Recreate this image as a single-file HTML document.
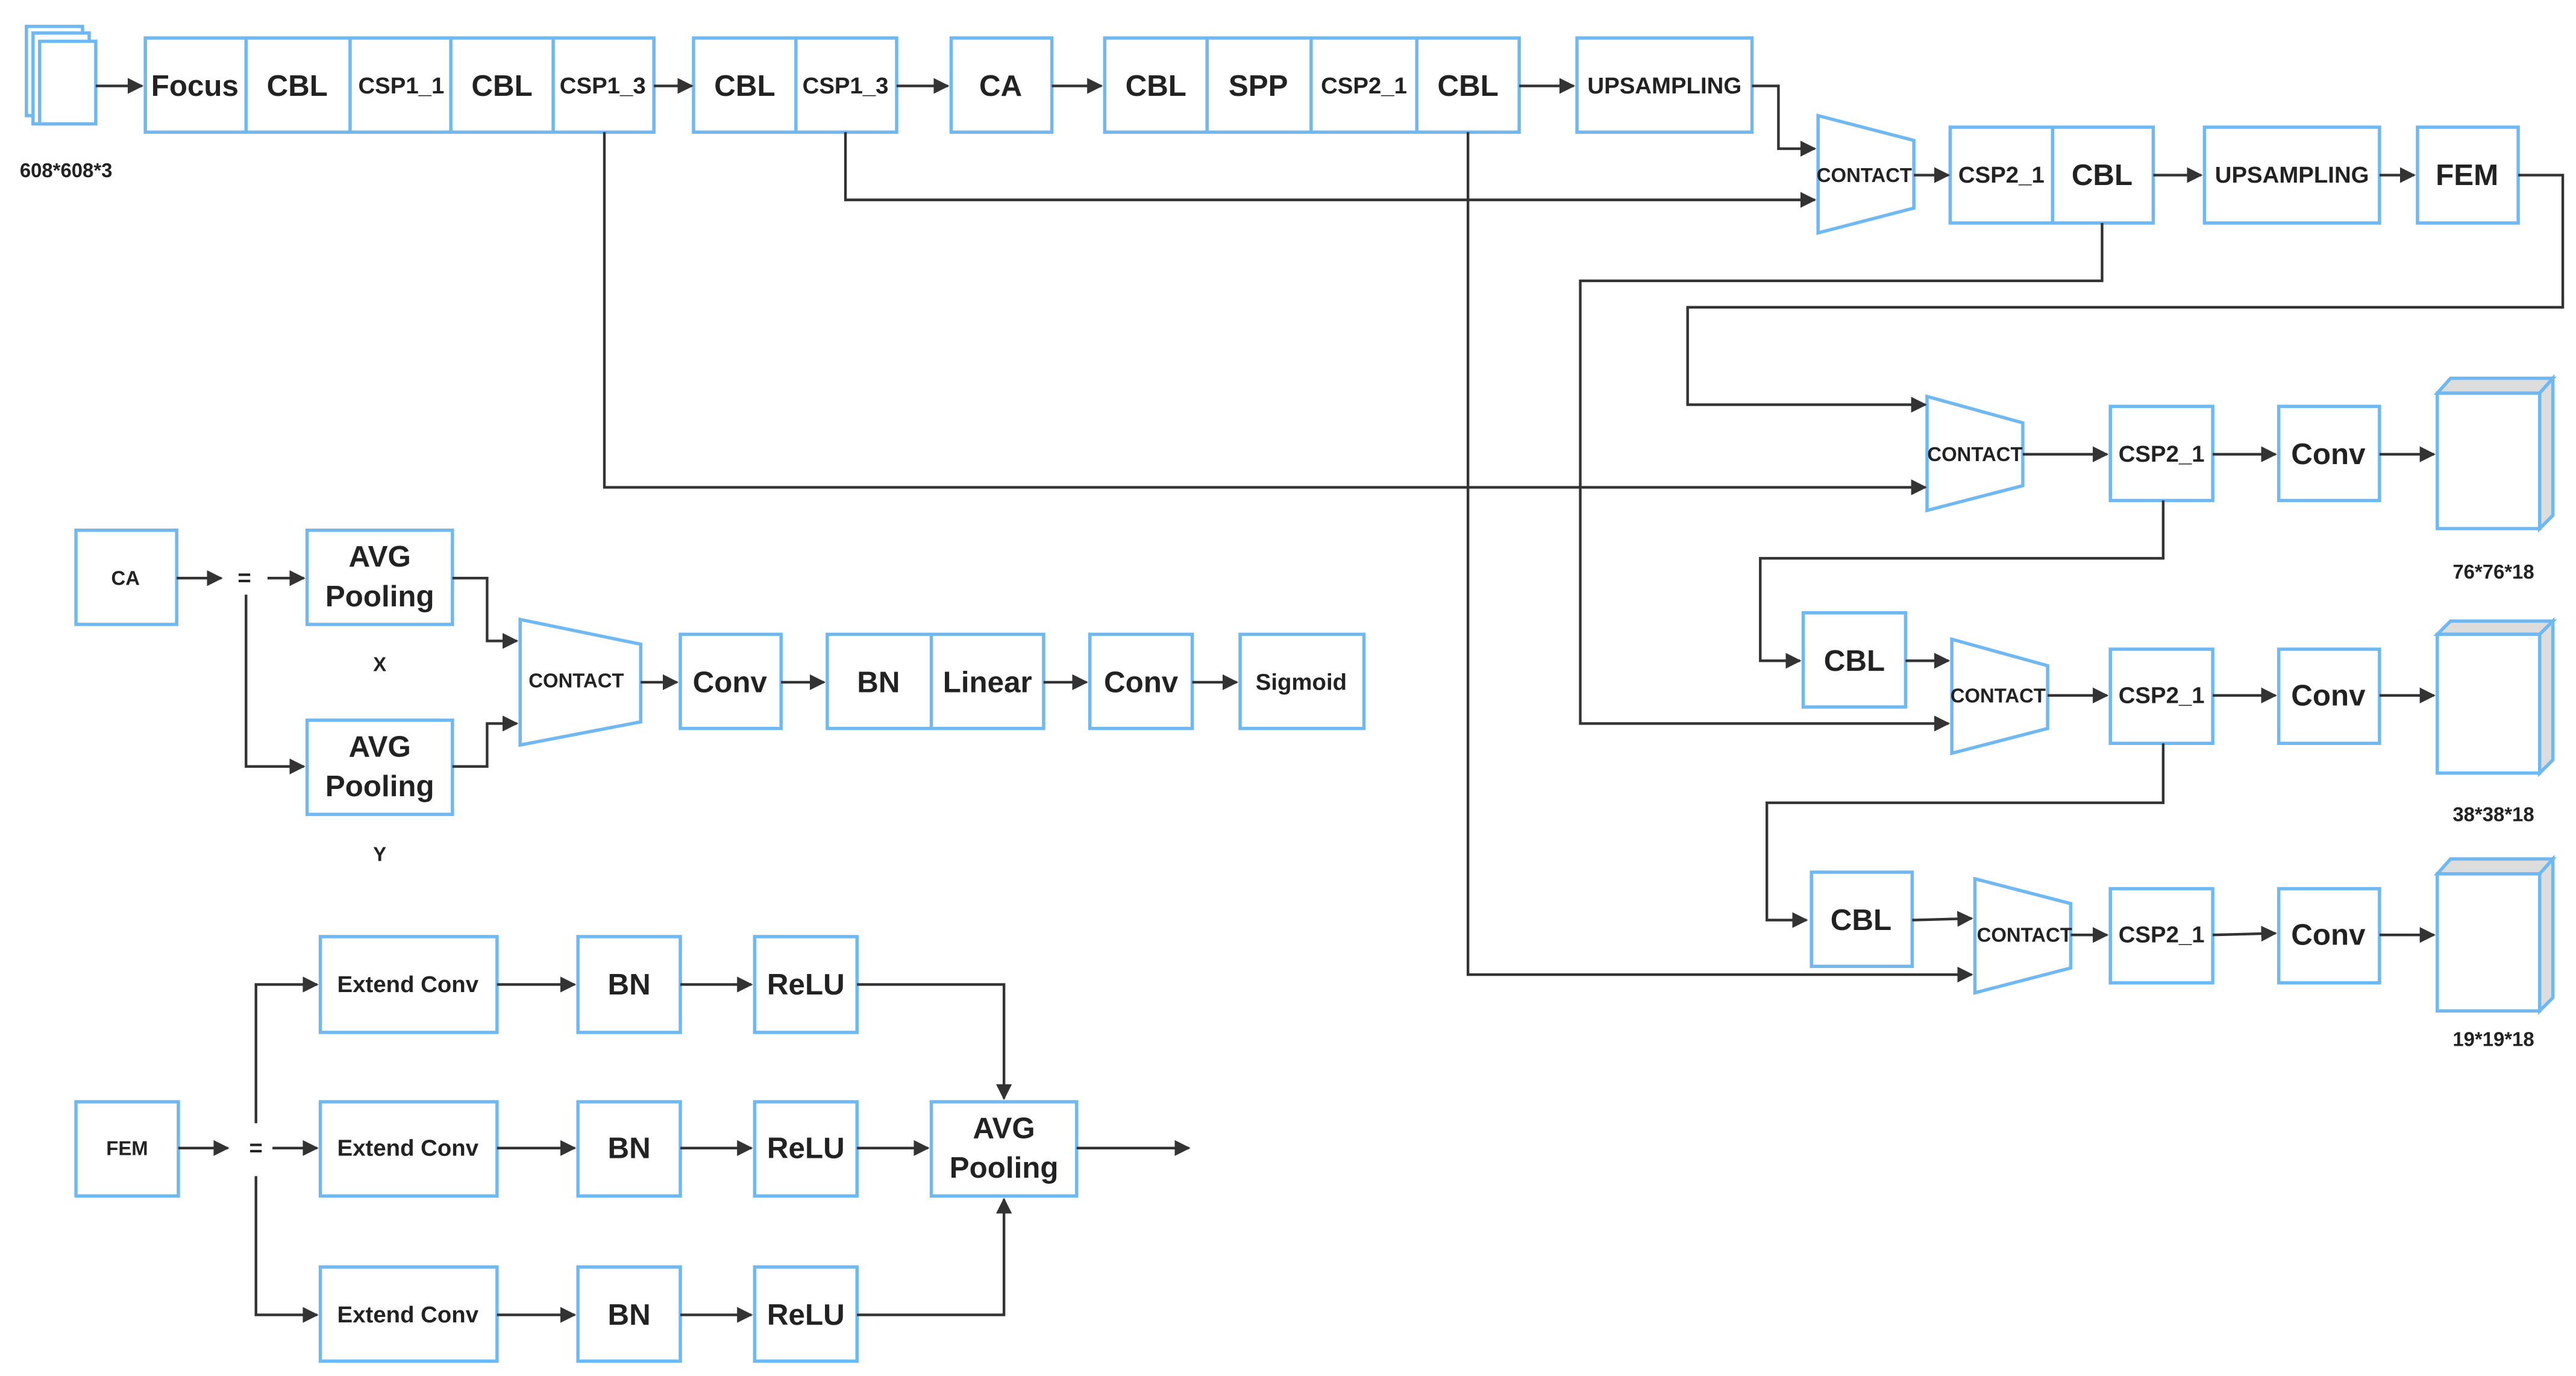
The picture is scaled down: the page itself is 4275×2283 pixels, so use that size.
<!DOCTYPE html>
<html><head><meta charset="utf-8"><style>
html,body{margin:0;padding:0;background:#fff;}
svg{display:block;}
text{font-family:"Liberation Sans Narrow","Liberation Sans",sans-serif;fill:#222;font-weight:bold;text-anchor:middle;dominant-baseline:central;}
.b{fill:#fff;stroke:#6fb8f2;stroke-width:2;}
.l{fill:none;stroke:#333;stroke-width:1.6;}
</style></head><body>
<svg width="4275" height="2283" viewBox="0 0 1560 833" preserveAspectRatio="none" xmlns="http://www.w3.org/2000/svg">
<defs><marker id="a" viewBox="0 0 10 10" refX="9" refY="5" markerWidth="6" markerHeight="6" orient="auto"><path d="M0,0L10,5L0,10z" fill="#333"/></marker></defs>
<g class="b">
<rect x="16" y="16" width="34" height="54"/><rect x="20" y="20" width="34" height="55"/><rect x="24" y="25" width="34" height="50"/>
<rect x="88" y="23" width="308" height="57"/><rect x="420" y="23" width="123" height="57"/><rect x="576" y="23" width="61" height="57"/>
<rect x="669" y="23" width="251" height="57"/><rect x="955" y="23" width="106" height="57"/>
<polygon points="1101,70 1159,85 1159,126 1101,141"/>
<rect x="1181" y="77" width="123" height="58"/><rect x="1335" y="77" width="106" height="58"/><rect x="1464" y="77" width="61" height="58"/>
<polygon points="1167,240 1225,256 1225,294 1167,309"/>
<rect x="1278" y="246" width="62" height="57"/><rect x="1380" y="246" width="61" height="57"/>
<rect x="1092" y="371" width="62" height="57"/>
<polygon points="1182,387 1240,403 1240,441 1182,456"/>
<rect x="1278" y="393" width="62" height="57"/><rect x="1380" y="393" width="61" height="57"/>
<rect x="1097" y="528" width="61" height="57"/>
<polygon points="1196,532 1254,547 1254,586 1196,601"/>
<rect x="1278" y="538" width="62" height="57"/><rect x="1380" y="538" width="61" height="57"/>
<rect x="46" y="321" width="61" height="57"/><rect x="186" y="321" width="88" height="57"/><rect x="186" y="436" width="88" height="57"/>
<polygon points="315,375 388,390 388,437 315,451"/>
<rect x="412" y="384" width="61" height="57"/><rect x="501" y="384" width="131" height="57"/><rect x="660" y="384" width="62" height="57"/><rect x="751" y="384" width="75" height="57"/>
<rect x="46" y="667" width="62" height="57"/>
<rect x="194" y="567" width="107" height="58"/><rect x="194" y="667" width="107" height="57"/><rect x="194" y="767" width="107" height="57"/>
<rect x="350" y="567" width="62" height="58"/><rect x="350" y="667" width="62" height="57"/><rect x="350" y="767" width="62" height="57"/>
<rect x="457" y="567" width="62" height="58"/><rect x="457" y="667" width="62" height="57"/><rect x="457" y="767" width="62" height="57"/>
<rect x="564" y="667" width="88" height="57"/>
</g>
<g class="b" stroke-width="1.5">
<line x1="149" y1="23" x2="149" y2="80"/><line x1="212" y1="23" x2="212" y2="80"/><line x1="273" y1="23" x2="273" y2="80"/><line x1="335" y1="23" x2="335" y2="80"/>
<line x1="482" y1="23" x2="482" y2="80"/><line x1="731" y1="23" x2="731" y2="80"/><line x1="794" y1="23" x2="794" y2="80"/><line x1="858" y1="23" x2="858" y2="80"/>
<line x1="1243" y1="77" x2="1243" y2="135"/><line x1="564" y1="384" x2="564" y2="441"/>
</g>
<!-- cubes -->
<g class="b">
<polygon points="1476,238 1484,229 1546,229 1538,238" style="fill:#ddd"/><polygon points="1538,238 1546,229 1546,312 1538,320" style="fill:#ddd"/><rect x="1476" y="238" width="62" height="82"/>
<polygon points="1476,384 1484,376 1546,376 1538,384" style="fill:#ddd"/><polygon points="1538,384 1546,376 1546,460 1538,468" style="fill:#ddd"/><rect x="1476" y="384" width="62" height="84"/>
<polygon points="1476,529 1484,520 1546,520 1538,529" style="fill:#ddd"/><polygon points="1538,529 1546,520 1546,604 1538,612" style="fill:#ddd"/><rect x="1476" y="529" width="62" height="83"/>
</g>
<g class="l" marker-end="url(#a)">
<path d="M58,52H86"/><path d="M396,52H419"/><path d="M543,52H574"/><path d="M637,52H667"/><path d="M920,52H953"/>
<path d="M1061,52H1077V90H1099"/><path d="M1159,106H1180"/><path d="M1304,106H1333"/><path d="M1441,106H1462"/>
<path d="M1525,106H1552V186H1022V245H1166"/>
<path d="M1273,135V170H957V438H1180"/>
<path d="M512,80V121H1099"/>
<path d="M366,80V295H1166"/>
<path d="M889,80V590H1194"/>
<path d="M1225,275H1276"/><path d="M1340,275H1378"/><path d="M1441,275H1474"/>
<path d="M1310,303V338H1066V400H1090"/><path d="M1154,400H1180"/>
<path d="M1240,421H1276"/><path d="M1340,421H1378"/><path d="M1441,421H1474"/>
<path d="M1310,450V486H1070V557H1094"/><path d="M1158,557L1194,556"/>
<path d="M1254,566H1276"/><path d="M1340,566L1378,565"/><path d="M1441,566H1474"/>
<path d="M107,350H134"/><path d="M162,350H184"/><path d="M149,360V464H184"/>
<path d="M274,350H295V388H313"/><path d="M274,464H295V438H313"/>
<path d="M388,413H410"/><path d="M473,413H499"/><path d="M632,413H658"/><path d="M722,413H749"/>
<path d="M108,695H138"/><path d="M165,695H192"/><path d="M155,680V596H192"/><path d="M155,712V796H192"/>
<path d="M301,596H348"/><path d="M301,695H348"/><path d="M301,796H348"/>
<path d="M412,596H455"/><path d="M412,695H455"/><path d="M412,796H455"/>
<path d="M519,596H608V665"/><path d="M519,695H562"/><path d="M519,796H608V726"/><path d="M652,695H720"/>
</g>
<g font-size="18">
<text x="118" y="52">Focus</text><text x="180" y="52">CBL</text><text x="304" y="52">CBL</text><text x="451" y="52">CBL</text>
<text x="606" y="52">CA</text><text x="700" y="52">CBL</text><text x="762" y="52">SPP</text><text x="889" y="52">CBL</text>
<text x="1273" y="106">CBL</text><text x="1494" y="106">FEM</text>
<text x="1410" y="275">Conv</text><text x="1123" y="400">CBL</text><text x="1410" y="421">Conv</text><text x="1127" y="557">CBL</text><text x="1410" y="566">Conv</text>
<text x="230" y="337">AVG</text><text x="230" y="361">Pooling</text><text x="230" y="452">AVG</text><text x="230" y="476">Pooling</text>
<text x="442" y="413">Conv</text><text x="532" y="413">BN</text><text x="598" y="413">Linear</text><text x="691" y="413">Conv</text>
<text x="381" y="596">BN</text><text x="381" y="695">BN</text><text x="381" y="796">BN</text>
<text x="488" y="596">ReLU</text><text x="488" y="695">ReLU</text><text x="488" y="796">ReLU</text>
<text x="608" y="683">AVG</text><text x="608" y="707">Pooling</text>
</g>
<g font-size="14">
<text x="243" y="52">CSP1_1</text><text x="365" y="52">CSP1_3</text><text x="512" y="52">CSP1_3</text><text x="826" y="52">CSP2_1</text>
<text x="1008" y="52">UPSAMPLING</text><text x="1212" y="106">CSP2_1</text><text x="1388" y="106">UPSAMPLING</text>
<text x="1309" y="275">CSP2_1</text><text x="1309" y="421">CSP2_1</text><text x="1309" y="566">CSP2_1</text>
<text x="788" y="413">Sigmoid</text>
<text x="247" y="596">Extend Conv</text><text x="247" y="695">Extend Conv</text><text x="247" y="796">Extend Conv</text>
<text x="148" y="350">=</text><text x="155" y="695">=</text>
</g>
<g font-size="12">
<text x="1129" y="106">CONTACT</text><text x="1196" y="275">CONTACT</text><text x="1210" y="421">CONTACT</text><text x="1226" y="566">CONTACT</text>
<text x="349" y="412">CONTACT</text>
<text x="40" y="103">608*608*3</text><text x="1510" y="346">76*76*18</text><text x="1510" y="493">38*38*18</text><text x="1510" y="629">19*19*18</text>
<text x="76" y="350">CA</text><text x="77" y="695">FEM</text><text x="230" y="402">X</text><text x="230" y="517">Y</text>
</g>
</svg>
</body></html>
